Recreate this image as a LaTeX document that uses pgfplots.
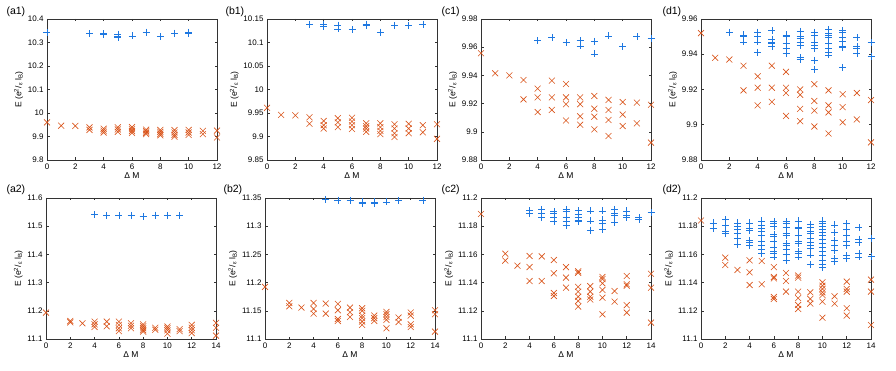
\documentclass[border=0pt]{standalone}
\usepackage{fontspec}
\setmainfont{Liberation Sans}
\usepackage{pgfplots}
\pgfplotsset{compat=1.18}
\definecolor{mblue}{RGB}{30,120,225}
\definecolor{mred}{RGB}{217,83,25}

\pgfplotsset{
  panel/.style={
    scale only axis, width=170pt, height=141pt, anchor=north west,
    clip=false, scaled ticks=false,
    /pgf/number format/assume math mode=true,
    tick align=inside, major tick length=2.5pt,
    axis line style={black!80, line width=0.5pt},
    tick style={black!80, line width=0.5pt},
    ticklabel style={font=\fontsize{8}{9}\selectfont},
    label style={font=\fontsize{8.5}{10}\selectfont},
    xlabel={Δ M},
    ylabel={E (e\textsuperscript{2}/\textsubscript{ε} l\textsubscript{B})},
    xlabel style={yshift=3pt}, ylabel style={yshift=-2pt},
  },
  row1/.style={xmin=0, xmax=12, xtick={0,2,4,6,8,10,12}},
  row2/.style={xmin=0, xmax=14, xtick={0,2,4,6,8,10,12,14}},
  bl/.style={only marks, mark=+, mark size=3.5pt, color=mblue,
    mark options={draw=mblue, line width=0.65pt}},
  rd/.style={only marks, mark=x, mark size=4.2pt, color=mred,
    mark options={draw=mred, line width=0.6pt}},
}
\tikzset{plab/.style={anchor=west, font=\fontsize{10.5}{12}\selectfont}}

\begin{document}
\begin{tikzpicture}
\path[use as bounding box] (0,0) rectangle (896pt,-371pt);

% ---- row 1 ----
\begin{axis}[panel, row1, at={(47pt,-19pt)}, ymin=9.8, ymax=10.4,
  ytick={9.8,9.9,10,10.1,10.2,10.3,10.4}]
\addplot[rd] coordinates {(0,9.960)(1,9.946)(2,9.945)(3,9.939)(3,9.928)(4,9.933)(4,9.925)(4,9.917)
 (5,9.939)(5,9.930)(5,9.920)(6,9.940)(6,9.931)(6,9.923)(6,9.915)(7,9.929)(7,9.922)(7,9.916)(7,9.910)
 (8,9.928)(8,9.920)(8,9.912)(8,9.905)(9,9.927)(9,9.917)(9,9.907)(9,9.899)(10,9.928)(10,9.917)(10,9.907)
 (11,9.924)(11,9.910)(12,9.925)(12,9.896)};
\addplot[bl] coordinates {(0,10.342)(3,10.338)(4,10.338)(4,10.333)(5,10.336)(5,10.328)(5,10.321)
 (6,10.328)(7,10.344)(8,10.325)(9,10.340)(10,10.344)(10,10.339)};
\end{axis}
\node[plab] at (3pt,-12pt) {(a1)};

\begin{axis}[panel, row1, at={(267pt,-19pt)}, ymin=9.85, ymax=10.15,
  ytick={9.85,9.9,9.95,10,10.05,10.1,10.15}]
\addplot[rd] coordinates {(0,9.961)(1,9.946)(2,9.945)(3,9.941)(3,9.927)(4,9.933)(4,9.924)(4,9.917)
 (5,9.939)(5,9.930)(5,9.920)(6,9.940)(6,9.932)(6,9.924)(6,9.916)(7,9.928)(7,9.922)(7,9.917)(7,9.910)
 (8,9.928)(8,9.920)(8,9.912)(8,9.905)(9,9.926)(9,9.917)(9,9.907)(9,9.899)(10,9.927)(10,9.917)(10,9.907)
 (11,9.924)(11,9.909)(12,9.926)(12,9.895)};
\addplot[bl] coordinates {(3,10.139)(4,10.139)(4,10.134)(5,10.137)(5,10.129)(6,10.127)(7,10.139)
 (7,10.136)(8,10.122)(9,10.136)(10,10.136)(11,10.139)};
\end{axis}
\node[plab] at (222pt,-12pt) {(b1)};

\begin{axis}[panel, row1, at={(481pt,-19pt)}, ymin=9.88, ymax=9.98,
  ytick={9.88,9.9,9.92,9.94,9.96,9.98}]
\addplot[rd] coordinates {(0,9.9557)(1,9.9415)(2,9.940)(3,9.9367)(3,9.923)(4,9.9306)(4,9.9244)(4,9.914)
 (5,9.9363)(5,9.9244)(5,9.9155)(6,9.9339)(6,9.9244)(6,9.9195)(6,9.908)(7,9.9244)(7,9.9196)(7,9.911)(7,9.905)
 (8,9.9254)(8,9.9164)(8,9.9107)(8,9.9017)(9,9.9226)(9,9.9155)(9,9.9084)(9,9.897)(10,9.9211)(10,9.9122)
 (10,9.9041)(11,9.9207)(11,9.906)(12,9.9192)(12,9.8923)};
\addplot[bl] coordinates {(4,9.9646)(5,9.9668)(6,9.9635)(7,9.9646)(7,9.9609)(8,9.9642)(8,9.9552)
 (9,9.968)(10,9.9604)(11,9.9675)(12,9.966)};
\end{axis}
\node[plab] at (438pt,-12pt) {(c1)};

\begin{axis}[panel, row1, at={(701pt,-19pt)}, ymin=9.88, ymax=9.96,
  ytick={9.88,9.9,9.92,9.94,9.96}]
\addplot[rd] coordinates {(0,9.952)(1,9.938)(2,9.937)(3,9.9335)(3,9.9195)(4,9.9275)(4,9.921)(4,9.911)
 (5,9.9335)(5,9.921)(5,9.913)(6,9.930)(6,9.921)(6,9.918)(6,9.905)(7,9.920)(7,9.917)(7,9.909)(7,9.902)
 (8,9.923)(8,9.9135)(8,9.908)(8,9.899)(9,9.9195)(9,9.911)(9,9.907)(9,9.895)(10,9.9173)(10,9.910)
 (10,9.9014)(11,9.918)(11,9.903)(12,9.914)(12,9.890)};
\addplot[bl] coordinates {(2,9.9526)(3,9.951)(3,9.950)(3,9.947)(4,9.9526)(4,9.950)(4,9.947)(4,9.941)
 (5,9.9534)(5,9.9486)(5,9.947)(5,9.946)(5,9.9445)(6,9.951)(6,9.950)(6,9.946)(6,9.9434)(6,9.9407)
 (7,9.953)(7,9.950)(7,9.949)(7,9.9466)(7,9.945)(7,9.938)(7,9.937)
 (8,9.9524)(8,9.951)(8,9.947)(8,9.945)(8,9.9434)(8,9.9365)(8,9.9316)
 (9,9.954)(9,9.952)(9,9.951)(9,9.9494)(9,9.946)(9,9.9434)(9,9.941)(9,9.9396)
 (10,9.9536)(10,9.9524)(10,9.9494)(10,9.9475)(10,9.9445)(10,9.9437)(10,9.9324)
 (11,9.9494)(11,9.9443)(11,9.9436)(11,9.9403)(12,9.9468)(12,9.9386)};
\end{axis}
\node[plab] at (659pt,-12pt) {(d1)};

% ---- row 2 ----
\begin{axis}[panel, row2, at={(46pt,-198pt)}, ymin=11.1, ymax=11.6,
  ytick={11.1,11.2,11.3,11.4,11.5,11.6}]
\addplot[rd] coordinates {(0,11.1936)(2,11.164)(2,11.159)(3,11.1557)(4,11.1616)(4,11.152)(4,11.1426)
 (5,11.1616)(5,11.145)(6,11.1616)(6,11.150)(6,11.138)(6,11.128)(7,11.1557)(7,11.147)(7,11.138)
 (8,11.152)(8,11.145)(8,11.138)(8,11.131)(8,11.126)(9,11.140)(9,11.133)(10,11.144)(10,11.138)
 (10,11.131)(10,11.119)(11,11.135)(11,11.128)(12,11.150)(12,11.140)(12,11.131)(12,11.121)
 (14,11.157)(14,11.140)(14,11.112)};
\addplot[bl] coordinates {(4,11.5408)(5,11.538)(6,11.537)(7,11.538)(8,11.5336)(9,11.5396)(10,11.538)(11,11.537)};
\end{axis}
\node[plab] at (3pt,-190pt) {(a2)};

\begin{axis}[panel, row2, at={(265pt,-198pt)}, ymin=11.1, ymax=11.35,
  ytick={11.1,11.15,11.2,11.25,11.3,11.35}]
\addplot[rd] coordinates {(0,11.1924)(2,11.164)(2,11.158)(3,11.1557)(4,11.164)(4,11.1533)(4,11.145)
 (5,11.1628)(5,11.145)(6,11.1622)(6,11.151)(6,11.1355)(6,11.132)(7,11.1557)(7,11.1474)(7,11.139)
 (8,11.1545)(8,11.150)(8,11.1415)(8,11.137)(8,11.131)(8,11.125)(9,11.1415)(9,11.137)(9,11.132)
 (10,11.148)(10,11.144)(10,11.139)(10,11.134)(10,11.119)(11,11.138)(11,11.130)
 (12,11.147)(12,11.1415)(12,11.126)(12,11.1213)(14,11.151)(14,11.144)(14,11.113)};
\addplot[bl] coordinates {(5,11.3476)(6,11.3464)(7,11.3453)(8,11.343)(8,11.3405)(9,11.343)(9,11.3405)
 (10,11.343)(11,11.3453)(13,11.3464)};
\end{axis}
\node[plab] at (220pt,-190pt) {(b2)};

\begin{axis}[panel, row2, at={(481pt,-198pt)}, ymin=11.1, ymax=11.2,
  ytick={11.1,11.12,11.14,11.16,11.18,11.2}]
\addplot[rd] coordinates {(0,11.1887)(2,11.1605)(2,11.1556)(3,11.152)(4,11.1589)(4,11.151)(4,11.1411)
 (5,11.1586)(5,11.1411)(6,11.156)(6,11.1466)(6,11.1326)(6,11.1305)(7,11.151)(7,11.1435)(7,11.1364)
 (8,11.148)(8,11.147)(8,11.137)(8,11.1336)(8,11.130)(8,11.127)(8,11.123)
 (9,11.1375)(9,11.1336)(9,11.130)(9,11.128)(10,11.144)(10,11.1425)(10,11.1395)(10,11.1348)(10,11.1293)
 (10,11.1175)(11,11.134)(11,11.1265)(12,11.1447)(12,11.1388)(12,11.1378)(12,11.124)(12,11.1187)
 (14,11.1463)(14,11.1364)(14,11.1116)};
\addplot[bl] coordinates {(4,11.191)(4,11.189)(5,11.1917)(5,11.189)(5,11.1865)(6,11.1903)(6,11.1894)
 (6,11.1865)(6,11.1835)(7,11.192)(7,11.1908)(7,11.186)(7,11.1832)(7,11.1804)(8,11.191)(8,11.1884)
 (8,11.1865)(8,11.184)(8,11.1832)(9,11.1908)(9,11.1837)(9,11.1773)(10,11.1908)(10,11.1844)
 (10,11.1818)(10,11.1775)(11,11.192)(11,11.189)(11,11.1875)(11,11.1827)(12,11.1908)(12,11.188)
 (12,11.186)(13,11.186)(13,11.1846)(14,11.1896)};
\end{axis}
\node[plab] at (438pt,-190pt) {(c2)};

\begin{axis}[panel, row2, at={(701pt,-198pt)}, ymin=11.1, ymax=11.2,
  ytick={11.1,11.12,11.14,11.16,11.18,11.2}]
\addplot[rd] coordinates {(0,11.184)(2,11.1577)(2,11.1525)(3,11.149)(4,11.1558)(4,11.1473)(4,11.1383)
 (5,11.1553)(5,11.1388)(6,11.151)(6,11.144)(6,11.143)(6,11.1298)(6,11.1284)(7,11.1468)(7,11.1411)
 (7,11.1336)(8,11.145)(8,11.1435)(8,11.1336)(8,11.129)(8,11.1241)(8,11.1213)(9,11.1331)(9,11.1284)
 (9,11.1251)(10,11.1402)(10,11.1378)(10,11.1355)(10,11.1331)(10,11.1312)(10,11.1265)(10,11.1151)
 (11,11.1303)(11,11.1251)(12,11.1407)(12,11.1355)(12,11.1336)(12,11.1218)(12,11.1166)
 (14,11.1421)(14,11.1336)(14,11.1099)};
\addplot[bl] coordinates {(1,11.1823)(1,11.1785)(2,11.1846)(2,11.1809)(2,11.1761)(2,11.1747)
 (3,11.1823)(3,11.180)(3,11.1775)(3,11.1747)(3,11.1714)(3,11.1671)
 (4,11.1823)(4,11.1785)(4,11.177)(4,11.170)(4,11.1686)(4,11.1662)
 (5,11.1837)(5,11.1809)(5,11.1785)(5,11.1761)(5,11.1733)(5,11.1695)(5,11.1667)(5,11.1634)(5,11.1605)
 (6,11.1832)(6,11.1818)(6,11.180)(6,11.1743)(6,11.1728)(6,11.169)(6,11.1653)(6,11.162)(6,11.1605)(6,11.1582)
 (7,11.1832)(7,11.1818)(7,11.1794)(7,11.1747)(7,11.1733)(7,11.1676)(7,11.1662)(7,11.1634)(7,11.160)(7,11.1558)
 (8,11.1837)(8,11.179)(8,11.1785)(8,11.1733)(8,11.169)(8,11.1676)(8,11.162)(8,11.1605)(8,11.1582)
 (9,11.1813)(9,11.179)(9,11.1761)(9,11.1747)(9,11.1714)(9,11.1686)(9,11.1667)(9,11.1643)(9,11.1596)(9,11.153)
 (10,11.1837)(10,11.1818)(10,11.180)(10,11.1775)(10,11.1757)(10,11.1738)(10,11.171)(10,11.1676)
 (10,11.1648)(10,11.162)(10,11.1596)(10,11.1558)(10,11.153)(10,11.151)
 (11,11.1809)(11,11.1757)(11,11.170)(11,11.1662)(11,11.1629)(11,11.1572)(11,11.1548)
 (12,11.1818)(12,11.1775)(12,11.1733)(12,11.1695)(12,11.1662)(12,11.1591)(12,11.1572)
 (13,11.179)(13,11.1709)(13,11.1686)(13,11.1605)(13,11.1582)(14,11.1712)(14,11.1586)};
\end{axis}
\node[plab] at (659pt,-190pt) {(d2)};
\end{tikzpicture}
\end{document}
